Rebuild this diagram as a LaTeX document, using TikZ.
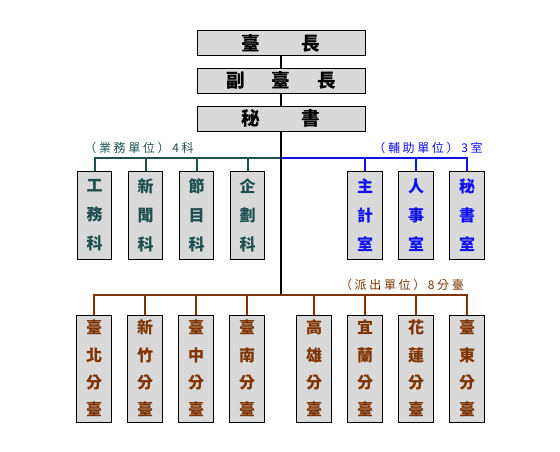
\documentclass[tikz,border=0pt]{standalone}
\usepackage{fontspec}
\setmainfont{Noto Sans CJK TC}
\newfontfamily\lblfont[LetterSpace=22]{Noto Sans CJK TC}
\usepackage{xcolor}
\definecolor{bizcol}{HTML}{1E5050}
\definecolor{auxcol}{HTML}{1010F0}
\definecolor{brcol}{HTML}{7F3300}
\definecolor{boxgray}{HTML}{D9D9D9}

\begin{document}
\begin{tikzpicture}[x=0.75pt,y=-0.75pt,
  box/.style={draw,fill=boxgray,line width=0.75pt,inner sep=0pt},
  headbox/.style={box,minimum width=126pt,minimum height=18.75pt,font=\fontsize{14}{16}\selectfont\bfseries},
  unitbox/.style={box,minimum width=26pt,minimum height=66pt,align=center,font=\fontsize{12}{21.75}\selectfont\bfseries},
  brbox/.style={box,minimum width=26pt,minimum height=80.25pt,align=center,text=brcol,font=\fontsize{12}{20.5}\selectfont\bfseries},
  lbl/.style={inner sep=0pt,font=\lblfont\fontsize{9}{10}\selectfont},
  link/.style={line width=1.5pt}]
  \useasboundingbox (0,0) rectangle (560,451);
  % head office
  \node[headbox] (chief) at (281,43) {臺\hspace{31pt}長};
  \node[headbox] (deputy) at (281,80.5) {副\hspace{20pt}臺\hspace{20pt}長};
  \node[headbox] (secr) at (281,118.5) {秘\hspace{31pt}書};
  \coordinate (mid) at (281,158);
  \coordinate (low) at (281,295);
  % units
  \foreach \t [count=\i] in {工\\務\\科,新\\聞\\科,節\\目\\科,企\\劃\\科}
    \node[unitbox,text=bizcol] (biz\i) at (94.5+51*\i-51,215) {\t};
  \foreach \t [count=\i] in {主\\計\\室,人\\事\\室,秘\\書\\室}
    \node[unitbox,text=auxcol] (aux\i) at (314+51*\i,215) {\t};
  \foreach \t [count=\i] in {臺\\北\\分\\臺,新\\竹\\分\\臺,臺\\中\\分\\臺,臺\\南\\分\\臺}
    \node[brbox] (br\i) at (94+51*\i-51,368.5) {\t};
  \foreach \t [count=\i] in {高\\雄\\分\\臺,宜\\蘭\\分\\臺,花\\蓮\\分\\臺,臺\\東\\分\\臺}
    \node[brbox] (br\the\numexpr\i+4\relax) at (263+51*\i,368.5) {\t};
  \node[lbl,text=bizcol] (bizlbl) at (139,148) {（業務單位）4科};
  \node[lbl,text=auxcol] (auxlbl) at (428,148) {（輔助單位）3室};
  \node[lbl,text=brcol] (brlbl) at (402,285) {（派出單位）8分臺};
  % connectors
  \foreach \i in {1,...,4} \draw[link,bizcol] (mid) -| (biz\i.north);
  \foreach \i in {1,2,3} \draw[link,auxcol] (mid) -| (aux\i.north);
  \draw[link] (chief) -- (deputy) -- (secr) -- (low);
  \foreach \i in {1,...,8} \draw[link,brcol] (low) -| (br\i.north);
\end{tikzpicture}
\end{document}
